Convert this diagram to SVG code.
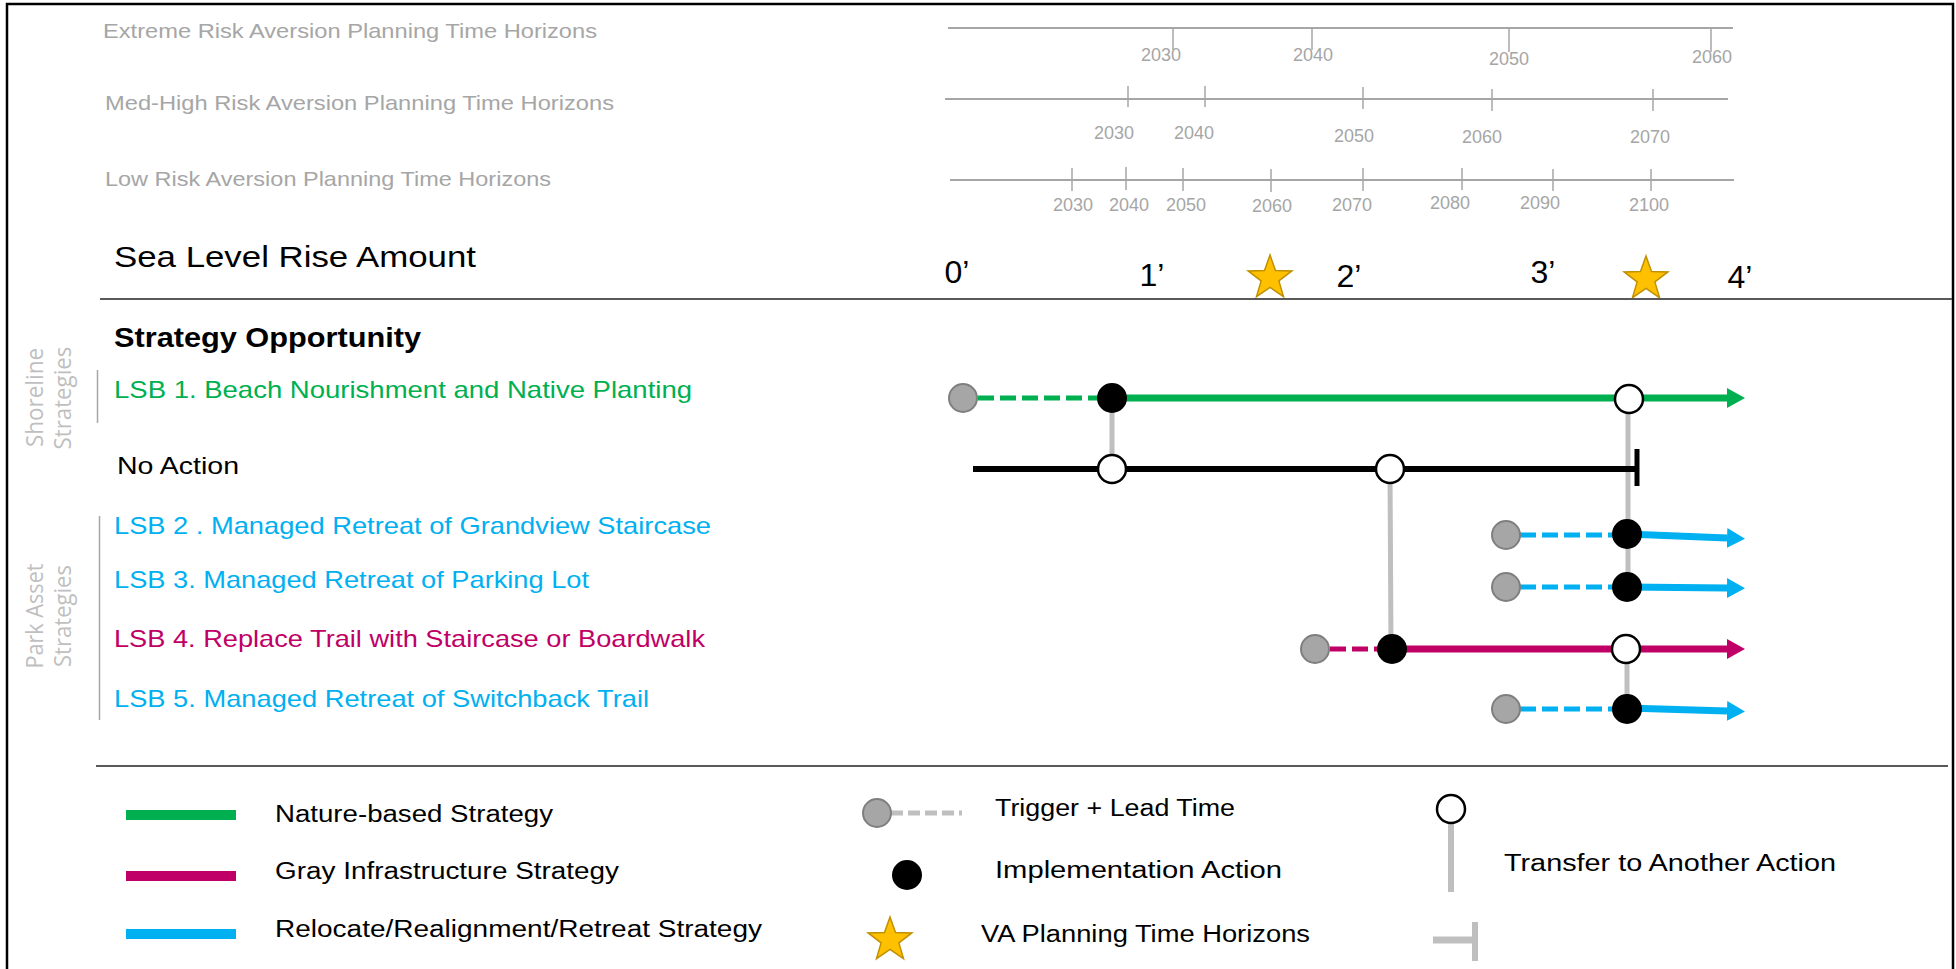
<svg xmlns="http://www.w3.org/2000/svg" xmlns:xlink="http://www.w3.org/1999/xlink" width="1956" height="969" viewBox="0 0 1956 969">
<style>
text{font-family:"Liberation Sans",Arial,sans-serif}
.hdr{fill:#A6A6A6;font-size:21px}
.yr{fill:#A6A6A6;font-size:18px;text-anchor:middle}
.slr{fill:#000;font-size:32px;text-anchor:middle}
.lbl{font-size:24px}
.leg{font-size:23px;fill:#000}
.vert{font-family:"Open Sans","Liberation Sans",sans-serif;fill:#BFBFBF;font-size:23px;text-anchor:middle}
.axis{stroke:#A6A6A6;stroke-width:2;fill:none}
.tick{stroke:#A6A6A6;stroke-width:1.5}
.sep{stroke:#595959;stroke-width:2}
.xfer{stroke:#BFBFBF;stroke-width:5;fill:none}
.trig{fill:#A6A6A6;stroke:#7F7F7F;stroke-width:2}
.impl{fill:#000;stroke:#000;stroke-width:2}
.open{fill:#fff;stroke:#000;stroke-width:2.5}
.dash{stroke-width:5;stroke-dasharray:16 6;fill:none}
.solid{stroke-width:7;fill:none}
.g{stroke:#00B050}
.b{stroke:#00B0F0}
.m{stroke:#C00066}
.star{fill:#FFC000;stroke:#BF9000;stroke-width:1.5}
</style>
<defs>
<polygon id="star" class="star" points="0,-23 5.5,-7.6 21.9,-7.1 8.9,2.9 13.5,18.6 0,9.4 -13.5,18.6 -8.9,2.9 -21.9,-7.1 -5.5,-7.6"/>
<marker id="arrG" markerUnits="userSpaceOnUse" markerWidth="18" markerHeight="20" viewBox="0 0 18 20" refX="0" refY="10" orient="auto"><path d="M0,0 L18,10 L0,20 z" fill="#00B050"/></marker>
<marker id="arrB" markerUnits="userSpaceOnUse" markerWidth="18" markerHeight="20" viewBox="0 0 18 20" refX="0" refY="10" orient="auto"><path d="M0,0 L18,10 L0,20 z" fill="#00B0F0"/></marker>
<marker id="arrM" markerUnits="userSpaceOnUse" markerWidth="18" markerHeight="20" viewBox="0 0 18 20" refX="0" refY="10" orient="auto"><path d="M0,0 L18,10 L0,20 z" fill="#C00066"/></marker>
</defs>
<rect x="7" y="4" width="1946" height="990" fill="#fff" stroke="#000" stroke-width="2.5"/>

<g id="header-timelines">
<text class="hdr" x="103" y="38" textLength="494" lengthAdjust="spacingAndGlyphs">Extreme Risk Aversion Planning Time Horizons</text>
<text class="hdr" x="105" y="110" textLength="509" lengthAdjust="spacingAndGlyphs">Med-High Risk Aversion Planning Time Horizons</text>
<text class="hdr" x="105" y="186" textLength="446" lengthAdjust="spacingAndGlyphs">Low Risk Aversion Planning Time Horizons</text>
<line class="axis" x1="948" y1="28" x2="1733" y2="28"/>
<path class="tick" d="M1173,28V50M1312,28V50M1509,28V52M1711,28V52"/>
<text class="yr" x="1161" y="61">2030</text>
<text class="yr" x="1313" y="61">2040</text>
<text class="yr" x="1509" y="65">2050</text>
<text class="yr" x="1712" y="63">2060</text>
<line class="axis" x1="945" y1="99" x2="1728" y2="99"/>
<path class="tick" d="M1128,86V107M1205,86V107M1363,87V109M1492,89V111M1653,89V111"/>
<text class="yr" x="1114" y="139">2030</text>
<text class="yr" x="1194" y="139">2040</text>
<text class="yr" x="1354" y="142">2050</text>
<text class="yr" x="1482" y="143">2060</text>
<text class="yr" x="1650" y="143">2070</text>
<line class="axis" x1="950" y1="180" x2="1734" y2="180"/>
<path class="tick" d="M1072,168V191M1126,167V190M1183,168V191M1271,169V192M1363,168V191M1462,168V190M1553,169V191M1651,169V191"/>
<text class="yr" x="1073" y="211">2030</text>
<text class="yr" x="1129" y="211">2040</text>
<text class="yr" x="1186" y="211">2050</text>
<text class="yr" x="1272" y="212">2060</text>
<text class="yr" x="1352" y="211">2070</text>
<text class="yr" x="1450" y="209">2080</text>
<text class="yr" x="1540" y="209">2090</text>
<text class="yr" x="1649" y="211">2100</text>
</g>

<g id="slr-row">
<text x="114" y="267" font-size="30" textLength="362" lengthAdjust="spacingAndGlyphs">Sea Level Rise Amount</text>
<text class="slr" x="957" y="283">0’</text>
<text class="slr" x="1152" y="286">1’</text>
<text class="slr" x="1349" y="287">2’</text>
<text class="slr" x="1543" y="283">3’</text>
<text class="slr" x="1740" y="288">4’</text>
<use xlink:href="#star" href="#star" x="1270" y="278"/>
<use xlink:href="#star" href="#star" x="1646" y="279"/>
</g>
<line class="sep" x1="100" y1="299" x2="1952" y2="299"/>

<g id="strategy-labels">
<text x="114" y="347" font-size="28" font-weight="bold" textLength="307" lengthAdjust="spacingAndGlyphs">Strategy Opportunity</text>
<text class="lbl" x="114" y="398" fill="#00B050" textLength="578" lengthAdjust="spacingAndGlyphs">LSB 1. Beach Nourishment and Native Planting</text>
<text class="lbl" x="117" y="474" fill="#000" textLength="122" lengthAdjust="spacingAndGlyphs">No Action</text>
<text class="lbl" x="114" y="534" fill="#00B0F0" textLength="597" lengthAdjust="spacingAndGlyphs">LSB 2 . Managed Retreat of Grandview Staircase</text>
<text class="lbl" x="114" y="588" fill="#00B0F0" textLength="475" lengthAdjust="spacingAndGlyphs">LSB 3. Managed Retreat of Parking Lot</text>
<text class="lbl" x="114" y="647" fill="#C00066" textLength="591" lengthAdjust="spacingAndGlyphs">LSB 4. Replace Trail with Staircase or Boardwalk</text>
<text class="lbl" x="114" y="707" fill="#00B0F0" textLength="535" lengthAdjust="spacingAndGlyphs">LSB 5. Managed Retreat of Switchback Trail</text>
</g>

<g id="group-labels">
<text class="vert" transform="translate(43,397.5) rotate(-90)" textLength="99" lengthAdjust="spacingAndGlyphs">Shoreline</text>
<text class="vert" transform="translate(71,398) rotate(-90)" textLength="103" lengthAdjust="spacingAndGlyphs">Strategies</text>
<line x1="97.5" y1="370" x2="97.5" y2="423" stroke="#A6A6A6" stroke-width="1.5"/>
<text class="vert" transform="translate(43,616) rotate(-90)" textLength="105" lengthAdjust="spacingAndGlyphs">Park Asset</text>
<text class="vert" transform="translate(71,616) rotate(-90)" textLength="102" lengthAdjust="spacingAndGlyphs">Strategies</text>
<line x1="99.5" y1="516" x2="99.5" y2="720" stroke="#A6A6A6" stroke-width="1.5"/>
</g>

<g id="connectors">
<line class="xfer" x1="1112" y1="398" x2="1112" y2="469"/>
<line class="xfer" x1="1390" y1="469" x2="1391" y2="649"/>
<line class="xfer" x1="1628" y1="399" x2="1628" y2="587"/>
<line class="xfer" x1="1627" y1="649" x2="1627" y2="709"/>
<line class="dash g" x1="978" y1="398" x2="1100" y2="398"/>
<line class="solid g" x1="1112" y1="398" x2="1727" y2="398" marker-end="url(#arrG)"/>
<line x1="973" y1="469" x2="1637" y2="469" stroke="#000" stroke-width="6"/>
<line x1="1637" y1="449" x2="1637" y2="486" stroke="#000" stroke-width="5"/>
<line class="dash b" x1="1520" y1="535" x2="1615" y2="535"/>
<line class="solid b" x1="1627" y1="534" x2="1727" y2="538" marker-end="url(#arrB)"/>
<line class="dash b" x1="1520" y1="587" x2="1615" y2="587"/>
<line class="solid b" x1="1627" y1="587" x2="1727" y2="588" marker-end="url(#arrB)"/>
<line class="dash m" x1="1330" y1="649" x2="1378" y2="649" stroke-dasharray="30 7"/>
<line class="solid m" x1="1392" y1="649" x2="1727" y2="649" marker-end="url(#arrM)"/>
<line class="dash b" x1="1520" y1="709" x2="1615" y2="709"/>
<line class="solid b" x1="1627" y1="708" x2="1727" y2="711" marker-end="url(#arrB)"/>
</g>

<g id="n-lsb1-trigger"><circle class="trig" cx="963" cy="398" r="14"/></g>
<g id="n-lsb1-impl"><circle class="impl" cx="1112" cy="398" r="14"/></g>
<g id="n-lsb1-transfer"><circle class="open" cx="1629" cy="399" r="14"/></g>
<g id="n-noaction-transfer1"><circle class="open" cx="1112" cy="469" r="14"/></g>
<g id="n-noaction-transfer2"><circle class="open" cx="1390" cy="469" r="14"/></g>
<g id="n-lsb2-trigger"><circle class="trig" cx="1506" cy="535" r="14"/></g>
<g id="n-lsb2-impl"><circle class="impl" cx="1627" cy="534" r="14"/></g>
<g id="n-lsb3-trigger"><circle class="trig" cx="1506" cy="587" r="14"/></g>
<g id="n-lsb3-impl"><circle class="impl" cx="1627" cy="587" r="14"/></g>
<g id="n-lsb4-trigger"><circle class="trig" cx="1315" cy="649" r="14"/></g>
<g id="n-lsb4-impl"><circle class="impl" cx="1392" cy="649" r="14"/></g>
<g id="n-lsb4-transfer"><circle class="open" cx="1626" cy="649" r="14"/></g>
<g id="n-lsb5-trigger"><circle class="trig" cx="1506" cy="709" r="14"/></g>
<g id="n-lsb5-impl"><circle class="impl" cx="1627" cy="709" r="14"/></g>

<line class="sep" x1="96" y1="766" x2="1948" y2="766"/>

<g id="legend">
<rect x="126" y="810" width="110" height="10" fill="#00B050"/>
<text class="leg" x="275" y="822" textLength="278" lengthAdjust="spacingAndGlyphs">Nature-based Strategy</text>
<rect x="126" y="871" width="110" height="10" fill="#C00066"/>
<text class="leg" x="275" y="879" textLength="344" lengthAdjust="spacingAndGlyphs">Gray Infrastructure Strategy</text>
<rect x="126" y="929" width="110" height="10" fill="#00B0F0"/>
<text class="leg" x="275" y="937" textLength="487" lengthAdjust="spacingAndGlyphs">Relocate/Realignment/Retreat Strategy</text>
<line x1="891" y1="813" x2="962" y2="813" stroke="#BFBFBF" stroke-width="5" stroke-dasharray="12 5"/>
<circle class="trig" cx="877" cy="813" r="14"/>
<text class="leg" x="995" y="816" textLength="240" lengthAdjust="spacingAndGlyphs">Trigger + Lead Time</text>
<circle class="impl" cx="907" cy="875" r="14"/>
<text class="leg" x="995" y="878" textLength="287" lengthAdjust="spacingAndGlyphs">Implementation Action</text>
<use xlink:href="#star" href="#star" x="890" y="940"/>
<text class="leg" x="981" y="942" textLength="329" lengthAdjust="spacingAndGlyphs">VA Planning Time Horizons</text>
<line x1="1451" y1="823" x2="1451" y2="892" stroke="#BFBFBF" stroke-width="6"/>
<circle class="open" cx="1451" cy="809" r="14"/>
<text class="leg" x="1504" y="871" textLength="332" lengthAdjust="spacingAndGlyphs">Transfer to Another Action</text>
<line x1="1433" y1="940" x2="1475" y2="940" stroke="#BFBFBF" stroke-width="7"/>
<line x1="1475" y1="922" x2="1475" y2="961" stroke="#BFBFBF" stroke-width="6"/>
</g>
</svg>
